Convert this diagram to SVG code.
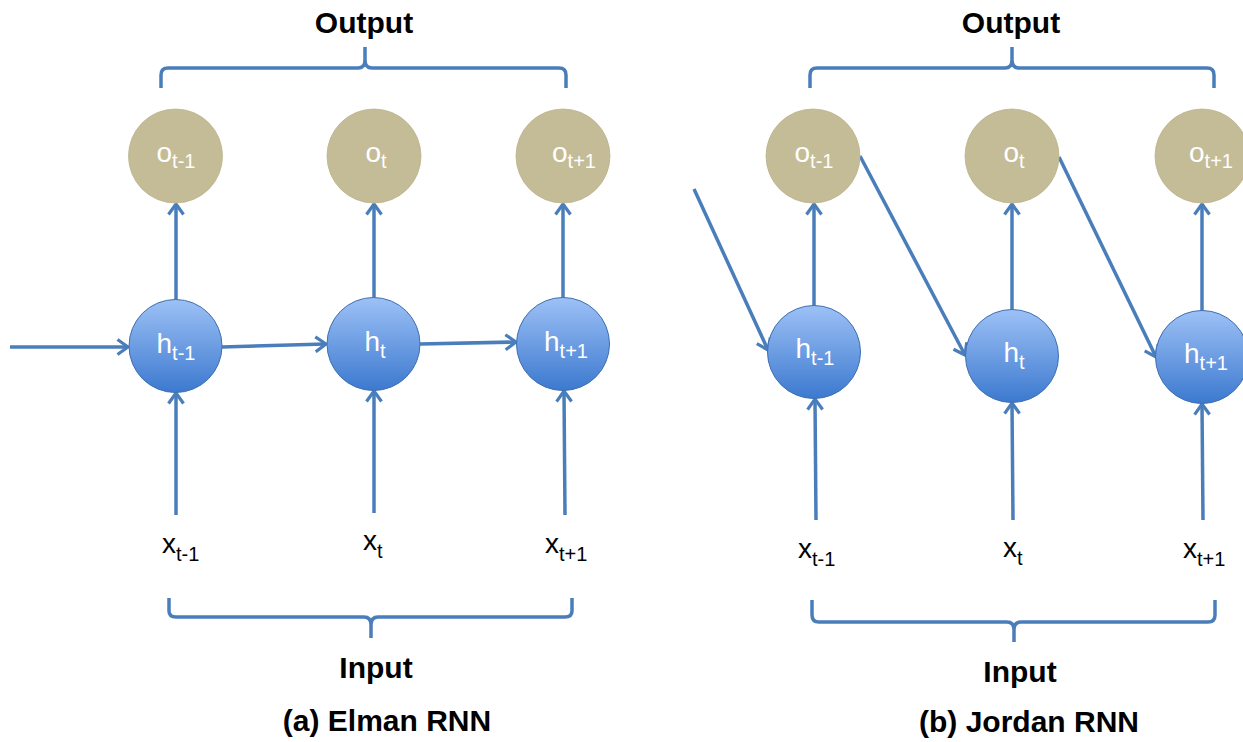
<svg xmlns="http://www.w3.org/2000/svg" width="1243" height="742" viewBox="0 0 1243 742">
<style>
.ln{fill:none;stroke:#4a7ebb;stroke-width:3.5;stroke-linecap:butt}
.ar{marker-end:url(#ah)}
.br{fill:none;stroke:#4a7ebb;stroke-width:3.5;stroke-linejoin:round}
.h{fill:url(#hg);stroke:#3f70b0;stroke-width:1}
.o{fill:#c4bc97;stroke:#bdb58f;stroke-width:0.8}
.nl{font-family:"Liberation Sans",Arial,sans-serif;font-size:28px;fill:#ffffff;text-anchor:middle}
.xl{font-family:"Liberation Sans",Arial,sans-serif;font-size:28px;fill:#000000}
.sub{font-size:20px}
.tt{font-family:"Liberation Sans",Arial,sans-serif;font-size:30px;font-weight:bold;fill:#000000;text-anchor:middle}
</style>
<defs>
<linearGradient id="hg" x1="0" y1="0" x2="0" y2="1">
<stop offset="0" stop-color="#9dc1f6"/>
<stop offset="1" stop-color="#3c79cf"/>
</linearGradient>
<marker id="ah" markerUnits="userSpaceOnUse" viewBox="0 0 14 18" markerWidth="14" markerHeight="18" refX="12" refY="9" orient="auto">
<path d="M1.5,1.5 L12,9 L1.5,16.5" fill="none" stroke="#4a7ebb" stroke-width="3.2"/>
</marker>
</defs>

<!-- Titles and braces -->
<g id="elman-labels">
<text class="tt" x="364" y="33">Output</text>
<path class="br" d="M161,88 V75 Q161,68 168,68 H358 Q365,68 365,60 V47 M365,60 Q365,68 372,68 H559 Q566,68 566,75 V88"/>
<path class="br" d="M169,598 V611 Q169,617 176,617 H364 Q371,617 371,625 V638 M371,625 Q371,617 378,617 H565 Q572,617 572,611 V598"/>
<text class="tt" x="376" y="678">Input</text>
<text class="tt" x="387" y="731">(a) Elman RNN</text>
</g>
<g id="jordan-labels">
<text class="tt" x="1011" y="33">Output</text>
<path class="br" d="M810,88 V75 Q810,68 817,68 H1005 Q1012,68 1012,60 V47 M1012,60 Q1012,68 1019,68 H1207 Q1214,68 1214,75 V88"/>
<path class="br" d="M812,600 V615 Q812,622 819,622 H1007 Q1014,622 1014,630 V642 M1014,630 Q1014,622 1021,622 H1208 Q1215,622 1215,615 V600"/>
<text class="tt" x="1020" y="682">Input</text>
<text class="tt" x="1029" y="732">(b) Jordan RNN</text>
</g>

<!-- Connectors -->
<g id="connectors">
<line class="ln ar" x1="10" y1="347" x2="128" y2="347"/>
<line class="ln ar" x1="222" y1="347" x2="326" y2="344"/>
<line class="ln ar" x1="420" y1="344" x2="516" y2="342"/>
<line class="ln ar" x1="176" y1="300" x2="176" y2="204"/>
<line class="ln ar" x1="374" y1="298" x2="374" y2="204"/>
<line class="ln ar" x1="563" y1="298" x2="563" y2="204"/>
<line class="ln ar" x1="176" y1="515" x2="176" y2="393"/>
<line class="ln ar" x1="374" y1="513" x2="374" y2="391"/>
<line class="ln ar" x1="565" y1="515" x2="564" y2="391"/>

<line class="ln ar" x1="694" y1="189" x2="768" y2="350"/>
<line class="ln ar" x1="860" y1="156" x2="965" y2="355"/>
<line class="ln ar" x1="1059" y1="157" x2="1156" y2="357"/>
<line class="ln ar" x1="814" y1="306" x2="814" y2="204"/>
<line class="ln ar" x1="1012" y1="310" x2="1012" y2="204"/>
<line class="ln ar" x1="1202" y1="311" x2="1202" y2="204"/>
<line class="ln ar" x1="816" y1="520" x2="815" y2="399"/>
<line class="ln ar" x1="1013" y1="520" x2="1012" y2="403"/>
<line class="ln ar" x1="1203" y1="520" x2="1202" y2="404"/>
</g>

<!-- Elman nodes -->
<g id="e-o1"><circle class="o" cx="175.5" cy="156" r="47"/><text class="nl" x="176" y="162">o<tspan class="sub" dy="6">t-1</tspan></text></g>
<g id="e-o2"><circle class="o" cx="374" cy="156" r="47"/><text class="nl" x="376" y="162">o<tspan class="sub" dy="6">t</tspan></text></g>
<g id="e-o3"><circle class="o" cx="563" cy="156" r="47"/><text class="nl" x="574" y="162">o<tspan class="sub" dy="6">t+1</tspan></text></g>
<g id="e-h1"><circle class="h" cx="175.5" cy="346" r="46.5"/><text class="nl" x="176" y="353">h<tspan class="sub" dy="7">t-1</tspan></text></g>
<g id="e-h2"><circle class="h" cx="373.5" cy="344" r="46.5"/><text class="nl" x="375" y="351">h<tspan class="sub" dy="7">t</tspan></text></g>
<g id="e-h3"><circle class="h" cx="563" cy="344" r="46.5"/><text class="nl" x="566" y="351">h<tspan class="sub" dy="7">t+1</tspan></text></g>
<g id="e-x1"><text class="xl" x="162" y="553">x<tspan class="sub" dy="8">t-1</tspan></text></g>
<g id="e-x2"><text class="xl" x="363" y="550">x<tspan class="sub" dy="8">t</tspan></text></g>
<g id="e-x3"><text class="xl" x="545" y="553">x<tspan class="sub" dy="8">t+1</tspan></text></g>

<!-- Jordan nodes -->
<g id="j-o1"><circle class="o" cx="813" cy="156" r="47"/><text class="nl" x="814" y="162">o<tspan class="sub" dy="6">t-1</tspan></text></g>
<g id="j-o2"><circle class="o" cx="1012" cy="156" r="47"/><text class="nl" x="1014" y="162">o<tspan class="sub" dy="6">t</tspan></text></g>
<g id="j-o3"><circle class="o" cx="1202" cy="156" r="47"/><text class="nl" x="1211" y="162">o<tspan class="sub" dy="6">t+1</tspan></text></g>
<g id="j-h1"><circle class="h" cx="814" cy="352" r="46.5"/><text class="nl" x="815" y="358">h<tspan class="sub" dy="7">t-1</tspan></text></g>
<g id="j-h2"><circle class="h" cx="1012" cy="356" r="46.5"/><text class="nl" x="1014" y="362">h<tspan class="sub" dy="7">t</tspan></text></g>
<g id="j-h3"><circle class="h" cx="1202" cy="357" r="46.5"/><text class="nl" x="1206" y="363">h<tspan class="sub" dy="7">t+1</tspan></text></g>
<g id="j-x1"><text class="xl" x="798" y="558">x<tspan class="sub" dy="8">t-1</tspan></text></g>
<g id="j-x2"><text class="xl" x="1003" y="557">x<tspan class="sub" dy="8">t</tspan></text></g>
<g id="j-x3"><text class="xl" x="1183" y="558">x<tspan class="sub" dy="8">t+1</tspan></text></g>
</svg>
